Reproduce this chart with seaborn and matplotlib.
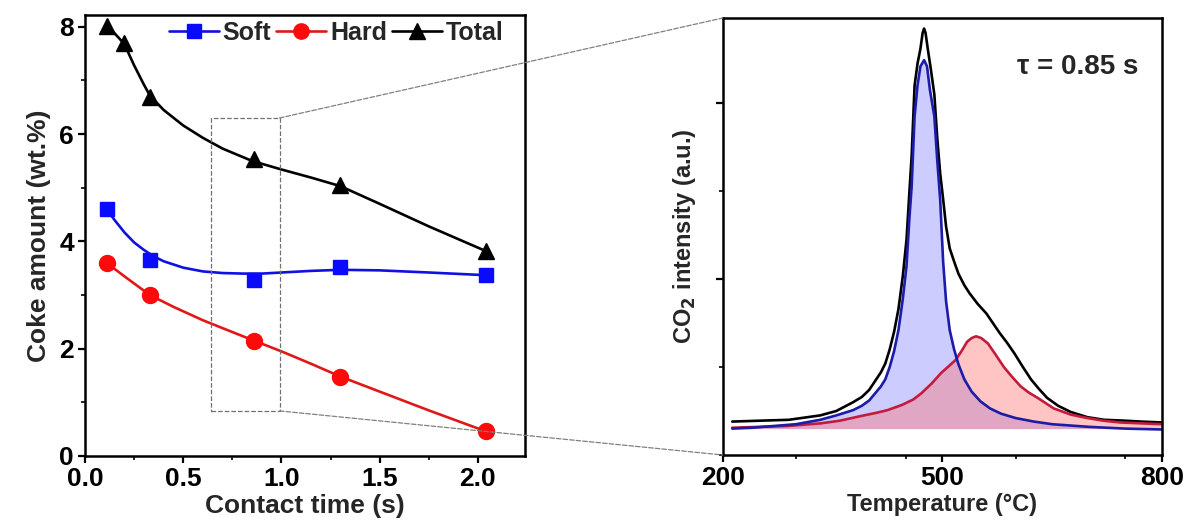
import numpy as np
import pandas as pd
import matplotlib
matplotlib.use("Agg")
import matplotlib.pyplot as plt
from matplotlib.patches import Rectangle, ConnectionPatch
from matplotlib.lines import Line2D
from matplotlib.ticker import MultipleLocator, FormatStrFormatter
import seaborn as sns

sns.set_theme(style="ticks")
plt.rcParams['font.family'] = ['Liberation Sans', 'DejaVu Sans']
plt.rcParams['font.weight'] = 'bold'

# ---- left panel: coke amount vs contact time ----
t_sh = [0.11, 0.33, 0.86, 1.30, 2.04]
soft = [4.60, 3.66, 3.28, 3.53, 3.37]
hard = [3.60, 3.00, 2.15, 1.48, 0.46]
t_tot = [0.11, 0.20, 0.33, 0.86, 1.30, 2.04]
total = [8.02, 7.70, 6.70, 5.53, 5.05, 3.83]

# guide curves
fs_t = [0.11, 0.15, 0.2, 0.25, 0.3, 0.35, 0.4, 0.5, 0.6, 0.7, 0.8, 0.9, 1.0, 1.15, 1.3, 1.5, 1.75, 2.04]
fs_v = [4.60, 4.40, 4.17, 3.98, 3.84, 3.72, 3.63, 3.51, 3.44, 3.41, 3.40, 3.40, 3.42, 3.45, 3.47, 3.46, 3.42, 3.37]
fh_t = [0.11, 0.2, 0.33, 0.45, 0.6, 0.75, 0.86, 1.0, 1.15, 1.3, 1.5, 1.75, 2.04]
fh_v = [3.60, 3.35, 3.00, 2.78, 2.53, 2.31, 2.15, 1.95, 1.72, 1.48, 1.20, 0.85, 0.46]
ft_t = [0.11, 0.15, 0.2, 0.25, 0.3, 0.33, 0.4, 0.5, 0.6, 0.7, 0.85, 1.0, 1.15, 1.3, 1.5, 1.75, 2.04]
ft_v = [8.02, 7.88, 7.68, 7.28, 6.92, 6.72, 6.45, 6.16, 5.93, 5.73, 5.50, 5.34, 5.19, 5.03, 4.70, 4.28, 3.82]

# zoom box (contact time / coke amount)
box_t = [0.64, 0.99]
box_y = [0.84, 6.30]

# ---- right panel: CO2 TPO profile at tau = 0.85 s ----
T_soft = [213, 240, 270, 300, 333, 355, 378, 390, 400, 408, 416, 422, 428, 434, 440, 446, 451, 455,
          458, 462, 466, 470, 475, 479, 483, 489, 493, 497, 501, 505, 510, 516, 522, 530, 540, 552,
          565, 580, 600, 625, 650, 700, 750, 800]
I_soft = [0.30, 0.31, 0.33, 0.35, 0.40, 0.45, 0.51, 0.56, 0.62, 0.70, 0.78, 0.86, 1.00, 1.18, 1.42, 1.78, 2.15, 2.70,
          3.05, 3.85, 4.20, 4.42, 4.49, 4.42, 4.15, 3.85, 3.35, 2.90, 2.20, 1.75, 1.42, 1.20, 1.03, 0.86, 0.72, 0.61,
          0.53, 0.47, 0.42, 0.38, 0.35, 0.32, 0.30, 0.29]
T_hard = [213, 250, 289, 334, 360, 387, 410, 425, 445, 460, 471, 485, 498, 510, 518, 526, 534, 540,
          546, 553, 562, 572, 584, 595, 607, 618, 630, 641, 652, 675, 698, 720, 743, 770, 800]
I_hard = [0.31, 0.32, 0.33, 0.36, 0.39, 0.44, 0.48, 0.51, 0.57, 0.63, 0.70, 0.81, 0.93, 1.02, 1.08, 1.18, 1.29, 1.33,
          1.35, 1.33, 1.27, 1.15, 1.00, 0.89, 0.78, 0.71, 0.65, 0.59, 0.53, 0.46, 0.42, 0.39, 0.37, 0.36, 0.35]
T_tot = [213, 250, 290, 333, 355, 378, 390, 400, 408, 416, 422, 428, 434, 440, 446, 451, 455, 458,
         462, 466, 470, 473, 475, 477, 480, 484, 489, 493, 497, 501, 505, 510, 516, 522, 530, 537,
         548, 560, 569, 578, 588, 598, 610, 621, 632, 643, 658, 675, 698, 721, 750, 771, 800]
I_tot = [0.38, 0.39, 0.40, 0.45, 0.50, 0.60, 0.66, 0.74, 0.84, 0.94, 1.04, 1.20, 1.40, 1.66, 2.04, 2.45, 3.00, 3.40,
         4.20, 4.45, 4.62, 4.80, 4.85, 4.80, 4.62, 4.40, 4.10, 3.60, 3.20, 2.91, 2.60, 2.35, 2.20, 2.06, 1.93, 1.84,
         1.72, 1.61, 1.50, 1.39, 1.28, 1.16, 1.00, 0.86, 0.75, 0.65, 0.56, 0.49, 0.43, 0.40, 0.39, 0.38, 0.37]
base = 0.30
tau_text = "τ = 0.85 s"

fig = plt.figure(figsize=(11.86, 5.24), dpi=100)
ax1 = fig.add_axes([0.0717, 0.1298, 0.3710, 0.8416])
ax2 = fig.add_axes([0.6094, 0.1317, 0.3704, 0.8340])

lw = 1.9
c_soft, c_hard = '#1010e0', '#e01818'
sns.lineplot(x=ft_t, y=ft_v, color='black', lw=lw, ax=ax1)
sns.lineplot(x=fs_t, y=fs_v, color=c_soft, lw=lw, ax=ax1)
sns.lineplot(x=fh_t, y=fh_v, color=c_hard, lw=lw, ax=ax1)
ax1.plot(t_tot, total, '^', color='black', ms=12, zorder=5)
ax1.plot(t_sh, soft, 's', color='#0a0aff', ms=10.5, zorder=5)
ax1.plot(t_sh, hard, 'o', color='#ff0a0a', ms=11.5, zorder=5)

ax1.add_patch(Rectangle((box_t[0], box_y[0]), box_t[1] - box_t[0], box_y[1] - box_y[0],
                        fill=False, ls='--', lw=0.9, ec='#707070', zorder=2))

ax1.set_xlim(0, 2.24)
ax1.set_ylim(0, 8.22)
ax1.xaxis.set_major_locator(MultipleLocator(0.5))
ax1.xaxis.set_minor_locator(MultipleLocator(0.25))
ax1.yaxis.set_major_locator(MultipleLocator(2))
ax1.yaxis.set_minor_locator(MultipleLocator(1))
ax1.xaxis.set_major_formatter(FormatStrFormatter('%.1f'))
ax1.set_xlabel("Contact time (s)", fontsize=19, fontweight='bold', labelpad=2)
ax1.set_ylabel("Coke amount (wt.%)", fontsize=19, fontweight='bold', labelpad=6)

handles = [Line2D([], [], color=c_soft, lw=lw, marker='s', ms=10, mfc='#0a0aff', mec='#0a0aff'),
           Line2D([], [], color=c_hard, lw=lw, marker='o', ms=11, mfc='#ff0a0a', mec='#ff0a0a'),
           Line2D([], [], color='black', lw=lw, marker='^', ms=12)]
ax1.legend(handles, ['Soft', 'Hard', 'Total'], ncol=3, frameon=False, loc='upper right',
           bbox_to_anchor=(0.985, 1.02), handlelength=2.0, handletextpad=0.15,
           columnspacing=0.2, borderaxespad=0.2, prop={'weight': 'bold', 'size': 18})

# right panel
ax2.fill_between(T_soft, I_soft, base, color='#8080ff', alpha=0.4, lw=0)
ax2.fill_between(T_hard, I_hard, base, color='#ff7070', alpha=0.4, lw=0)
sns.lineplot(x=T_tot, y=I_tot, color='black', lw=1.9, ax=ax2)
sns.lineplot(x=T_hard, y=I_hard, color='#c41a3c', lw=1.9, ax=ax2)
sns.lineplot(x=T_soft, y=I_soft, color='#1c1ca8', lw=1.9, ax=ax2)

ax2.set_xlim(200, 800)
ax2.set_ylim(0, 4.97)
ax2.set_xticks([200, 500, 800])
ax2.xaxis.set_minor_locator(MultipleLocator(150))
ax2.set_yticks([2, 4])
ax2.yaxis.set_minor_locator(MultipleLocator(1))
ax2.set_yticklabels([])
ax2.set_xlabel("Temperature (°C)", fontsize=17, fontweight='bold', labelpad=2)
ax2.set_ylabel("CO$_2$ intensity (a.u.)", fontsize=17, fontweight='bold', labelpad=10)
ax2.text(0.945, 0.888, tau_text, transform=ax2.transAxes, ha='right', va='center',
         fontsize=20, fontweight='bold')

for ax in (ax1, ax2):
    for s in ax.spines.values():
        s.set_linewidth(1.8)
        s.set_color('black')
    ax.tick_params(which='major', direction='out', length=5, width=1.6, labelsize=19,
                   colors='black', pad=3)
    ax.tick_params(which='minor', direction='out', length=3, width=1.4)
    for lab in ax.get_xticklabels() + ax.get_yticklabels():
        lab.set_fontweight('bold')

# dashed connectors from zoom box to the right panel
for yb, ya in ((box_y[1], 1), (box_y[0], 0)):
    con = ConnectionPatch(xyA=(box_t[1], yb), coordsA=ax1.transData,
                          xyB=(0, ya), coordsB=ax2.transAxes,
                          ls='--', lw=0.9, color='#808080')
    fig.add_artist(con)

fig.savefig("out.png", dpi=100)
